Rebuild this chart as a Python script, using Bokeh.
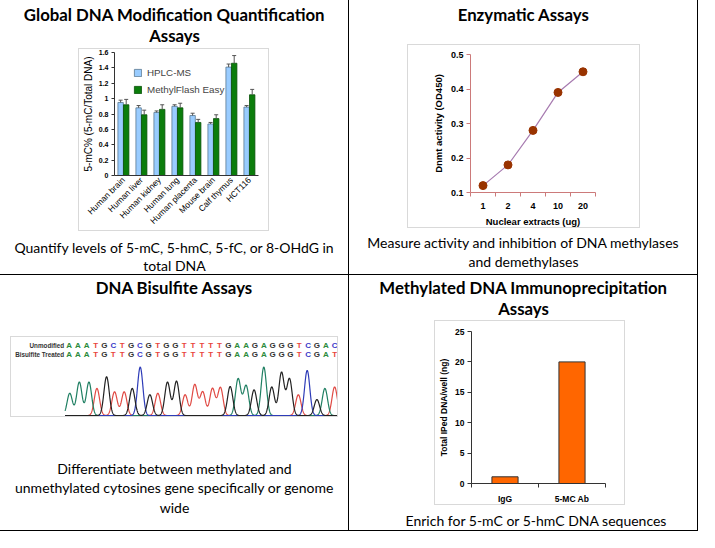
import math
import numpy as np
from bokeh.plotting import figure
from bokeh.models import Range1d, FactorRange, Legend, LegendItem, FixedTicker, Spacer
from bokeh.layouts import row, column
from bokeh.embed import file_html
from bokeh.resources import INLINE
from bokeh.core.properties import value
from bokeh.transform import dodge

# ---------------- data ----------------
titles_1 = ["Global DNA Modification Quantification", "Assays"]
caption_1 = ["Quantify levels of 5-mC, 5-hmC, 5-fC, or 8-OHdG in", "total DNA"]
tissues = ["Human brain", "Human liver", "Human kidney", "Human lung",
           "Human placenta", "Mouse brain", "Calf thymus", "HCT116"]
hplc = [0.95, 0.88, 0.82, 0.90, 0.78, 0.67, 1.41, 0.89]
hplc_err = [0.03, 0.03, 0.02, 0.02, 0.03, 0.02, 0.04, 0.02]
methylflash = [0.92, 0.79, 0.86, 0.88, 0.69, 0.74, 1.46, 1.05]
methylflash_err = [0.07, 0.06, 0.06, 0.06, 0.04, 0.05, 0.10, 0.07]
y1_ticks = [0, 0.2, 0.4, 0.6, 0.8, 1.0, 1.2, 1.4, 1.6]

titles_2 = ["Enzymatic Assays"]
caption_2 = ["Measure activity and inhibition of DNA methylases", "and demethylases"]
extracts = ["1", "2", "4", "10", "20"]
dnmt = [0.12, 0.18, 0.28, 0.39, 0.45]
y2_ticks = [0.1, 0.2, 0.3, 0.4, 0.5]

titles_3 = ["DNA Bisulfite Assays"]
caption_3 = ["Differentiate between methylated and",
             "unmethylated cytosines gene specifically or genome", "wide"]
seq_names = ["Unmodified", "Bisulfite Treated"]
seq_unmod = "AAATGCTGCGTGGTTTTTGAAGAGGGTCGAC"
seq_bis = "AAATGTTGCGTGGTTTTTGAAGAGGGTCGAT"
peak_pos = [0.08, 1.16, 2.25, 3.15, 4.24, 5.14, 6.23, 7.14, 8.04, 9.13, 10.03, 11.12,
            12.14, 13.11, 14.2, 15.1, 16.2, 17.1, 18.2, 19.1, 20.0, 20.9, 22.0, 22.9,
            24.0, 24.9, 25.9, 26.9, 28.0, 28.9, 30.0]
peak_h = [0.46, 0.69, 0.69, 0.56, 0.80, 0.49, 0.49, 0.56, 1.0, 0.43, 0.46, 0.69,
          0.71, 0.43, 0.64, 0.49, 0.56, 0.58, 0.60, 0.76, 0.62, 0.53, 1.0, 0.59,
          0.89, 0.76, 0.43, 0.93, 0.33, 0.56, 0.59]

titles_4 = ["Methylated DNA Immunoprecipitation", "Assays"]
caption_4 = ["Enrich for 5-mC or 5-hmC DNA sequences"]
antibodies = ["IgG", "5-MC Ab"]
iped = [1.1, 20.0]
y4_ticks = [0, 5, 10, 15, 20, 25]

# ---------------- helpers ----------------
FONT = "Lato"
CHART_FONT = "Liberation Sans"
BOX = "#d9d9d9"
CELL_W = 348
TITLE_SIZE = 16.8
CAPTION_SIZE = 14


def text_fig(h, lines, ys, size, bold, x=CELL_W / 2):
    f = figure(width=CELL_W, height=h, x_range=Range1d(0, CELL_W), y_range=Range1d(h, 0),
               min_border_left=0, min_border_right=0, min_border_top=0, min_border_bottom=0,
               x_axis_location=None, y_axis_location=None,
               toolbar_location=None, output_backend="svg")
    f.title.visible = False
    f.grid.visible = False
    f.outline_line_color = None
    f.text(x=[x] * len(lines), y=ys, text=lines, text_align="center", text_baseline="middle",
           text_font=value(FONT), text_font_size=f"{size}px",
           text_font_style="bold" if bold else "normal", text_color="black")
    return f


def chart_fig(w, h, fl, ft, fw, fh, **kw):
    p = figure(width=w, height=h, min_border_left=fl, min_border_top=ft,
               min_border_right=w - fl - fw, min_border_bottom=h - ft - fh,
               toolbar_location=None, output_backend="svg",
               styles={"border": f"1px solid {BOX}"}, **kw)
    p.title.visible = False
    p.grid.visible = False
    p.outline_line_color = None
    return p


def assemble(title_f, chart, left, right, box_h, caption_f):
    mid = row(Spacer(width=left, height=box_h), chart, Spacer(width=right, height=box_h))
    return column(title_f, mid, caption_f, styles={"background-color": "white"})


def style_axes(p, color, size, bold):
    for ax in p.axis:
        ax.axis_line_color = color
        ax.major_tick_line_color = color
        ax.minor_tick_line_color = None
        ax.major_tick_in = 0
        ax.major_label_text_font = CHART_FONT
        ax.major_label_text_font_size = f"{size}px"
        ax.major_label_text_font_style = "bold" if bold else "normal"
        ax.major_label_text_color = "black"
        ax.axis_label_text_font = CHART_FONT
        ax.axis_label_text_font_style = "bold" if bold else "normal"
        ax.axis_label_text_color = "black"


# ---------------- cell 1 ----------------
t1 = text_fig(48, titles_1, [14, 35], TITLE_SIZE, True)
c1 = text_fig(41, caption_1, [14, 32], CAPTION_SIZE, False)
p1 = chart_fig(191, 183, 29, 3, 150, 138,
               x_range=FactorRange(*tissues, range_padding=0), y_range=Range1d(0, 1.6))
src1 = dict(t=tissues, a=hplc, b=methylflash,
            ua=[v + e for v, e in zip(hplc, hplc_err)],
            ub=[v + e for v, e in zip(methylflash, methylflash_err)])
r_a = p1.vbar(x=dodge("t", -0.16, range=p1.x_range), top="a", width=0.3, source=src1,
              fill_color="#99ccff", line_color="#5a7890", line_width=0.8)
r_b = p1.vbar(x=dodge("t", 0.15, range=p1.x_range), top="b", width=0.3, source=src1,
              fill_color="#0b7d0b", line_color="#075007", line_width=0.8)
for off, lo, hi in ((-0.16, "a", "ua"), (0.15, "b", "ub")):
    p1.segment(x0=dodge("t", off, range=p1.x_range), x1=dodge("t", off, range=p1.x_range),
               y0=lo, y1=hi, source=src1, line_color="#555555", line_width=1)
    p1.scatter(x=dodge("t", off, range=p1.x_range), y=hi, source=src1, marker="dash",
               size=4, line_color="#555555", line_width=1)
p1.yaxis.ticker = FixedTicker(ticks=y1_ticks)
p1.yaxis.major_label_overrides = {t: f"{t:g}" for t in y1_ticks}
p1.yaxis.axis_label = "5-mC% (5-mC/Total DNA)"
style_axes(p1, "#333333", 7, True)
p1.yaxis.axis_label_text_font_style = "normal"
p1.yaxis.axis_label_text_font_size = "10px"
p1.yaxis.axis_label_standoff = 2
p1.yaxis.major_tick_out = 3
p1.yaxis.major_label_standoff = 3
p1.xaxis.major_label_orientation = math.pi / 4
p1.xaxis.major_label_text_font_style = "normal"
p1.xaxis.major_label_text_font_size = "8.5px"
p1.xaxis.major_tick_line_color = None
p1.xaxis.major_tick_out = 0
p1.xaxis.major_label_standoff = 3
leg = Legend(items=[LegendItem(label="HPLC-MS", renderers=[r_a]),
                    LegendItem(label="MethylFlash Easy", renderers=[r_b])],
             location=(19, 80), glyph_width=9, glyph_height=9, label_height=9,
             spacing=6, padding=0, margin=0, label_standoff=5,
             label_text_font=CHART_FONT, label_text_font_size="9.8px",
             border_line_color=None, background_fill_alpha=0)
p1.add_layout(leg)
cell1 = assemble(t1, p1, 78, 77, 185, c1)

# ---------------- cell 2 ----------------
t2 = text_fig(44, titles_2, [14], TITLE_SIZE, True)
c2 = text_fig(44, caption_2, [12, 31], CAPTION_SIZE, False)
p2 = chart_fig(233, 184, 62, 9, 125, 140,
               x_range=Range1d(0, len(extracts)), y_range=Range1d(0.1, 0.5))
xpos2 = [i + 0.5 for i in range(len(extracts))]
p2.line(xpos2, dnmt, line_color="#a77bb0", line_width=1.2)
p2.scatter(xpos2, dnmt, size=8, fill_color="#993300", line_color="#993300")
p2.xaxis.ticker = FixedTicker(ticks=xpos2, minor_ticks=list(range(len(extracts) + 1)))
p2.xaxis.major_label_overrides = {x: e for x, e in zip(xpos2, extracts)}
p2.yaxis.ticker = FixedTicker(ticks=y2_ticks)
p2.yaxis.major_label_overrides = {t: f"{t:g}" for t in y2_ticks}
p2.xaxis.axis_label = "Nuclear extracts (ug)"
p2.yaxis.axis_label = "Dnmt activity (OD450)"
style_axes(p2, "#cc7a7a", 9, True)
p2.xaxis.minor_tick_line_color = "#cc7a7a"
p2.xaxis.minor_tick_in = 0
p2.xaxis.minor_tick_out = 4
p2.xaxis.major_tick_out = 0
p2.xaxis.major_tick_line_color = None
p2.xaxis.major_label_standoff = 6
p2.yaxis.major_tick_out = 4
p2.yaxis.major_label_standoff = 3
for ax in p2.axis:
    ax.axis_label_text_font_size = "9.5px"
    ax.axis_label_standoff = 4
cell2 = assemble(t2, p2, 58, 55, 186, c2)

# ---------------- cell 3 ----------------
t3 = text_fig(61, titles_3, [12], TITLE_SIZE, True)
c3 = text_fig(111, caption_3, [49, 68, 88], CAPTION_SIZE, False)
p3 = chart_fig(328, 81, 0, 0, 328, 81, x_range=Range1d(-6.5, 30.55),
               y_range=Range1d(-0.06, 1.61), x_axis_location=None, y_axis_location=None)
base_colors = {"A": "#2a8a3a", "C": "#3a3ac8", "G": "#333333", "T": "#e8453c"}
trace_colors = {"T": "#e04a44", "A": "#1f7f62", "C": "#2e3cb8", "G": "#222222"}
idx = list(range(len(seq_bis)))
for yrow, seq, name in ((1.45, seq_unmod, seq_names[0]), (1.25, seq_bis, seq_names[1])):
    p3.text(x=idx, y=[yrow] * len(seq), text=list(seq),
            text_color=[base_colors[c] for c in seq], text_align="center",
            text_baseline="middle", text_font=value(CHART_FONT), text_font_size="8px",
            text_font_style="bold")
    p3.text(x=[-0.55], y=[yrow], text=[name], text_align="right", text_baseline="middle",
            text_color="#333333", text_font=value(CHART_FONT), text_font_size="6.3px",
            text_font_style="bold")
xs = np.linspace(-0.45, 30.35, 1600)
for base, col in trace_colors.items():
    ys = np.zeros_like(xs)
    for pos, hgt, b in zip(peak_pos, peak_h, seq_bis):
        if b == base:
            ys += hgt * np.exp(-0.5 * ((xs - pos) / 0.3) ** 2)
    p3.line(xs, ys, line_color=col, line_width=1.2)
cell3 = assemble(t3, p3, 10, 8, 83, c3)

# ---------------- cell 4 ----------------
t4 = text_fig(45, titles_4, [12, 33], TITLE_SIZE, True)
c4 = text_fig(23, caption_4, [13, ], CAPTION_SIZE, False, x=187)
p4 = chart_fig(191, 185, 36, 10, 134, 156,
               x_range=Range1d(0, len(antibodies)), y_range=Range1d(0, 25))
xpos4 = [i + 0.5 for i in range(len(antibodies))]
p4.vbar(x=xpos4, top=iped, width=0.39, fill_color="#ff6600", line_color="#333333",
        line_width=1)
p4.xaxis.ticker = FixedTicker(ticks=xpos4, minor_ticks=list(range(len(antibodies) + 1)))
p4.xaxis.major_label_overrides = {x: a for x, a in zip(xpos4, antibodies)}
p4.yaxis.ticker = FixedTicker(ticks=y4_ticks)
p4.yaxis.axis_label = "Total IPed DNA/well (ng)"
style_axes(p4, "#333333", 8.5, True)
p4.xaxis.minor_tick_line_color = "#333333"
p4.xaxis.minor_tick_in = 0
p4.xaxis.minor_tick_out = 4
p4.xaxis.major_tick_out = 0
p4.xaxis.major_tick_line_color = None
p4.xaxis.major_label_standoff = 6
p4.yaxis.major_tick_out = 4
p4.yaxis.major_label_standoff = 3
p4.yaxis.axis_label_text_font_size = "8.5px"
p4.yaxis.axis_label_standoff = 3
cell4 = assemble(t4, p4, 85, 70, 187, c4)

layout = column(row(cell1, cell2, spacing=1), row(cell3, cell4, spacing=1), spacing=1,
                styles={"background-color": "black", "outline": "1px solid black"})

open("out.html", "w").write(file_html(layout, INLINE))
